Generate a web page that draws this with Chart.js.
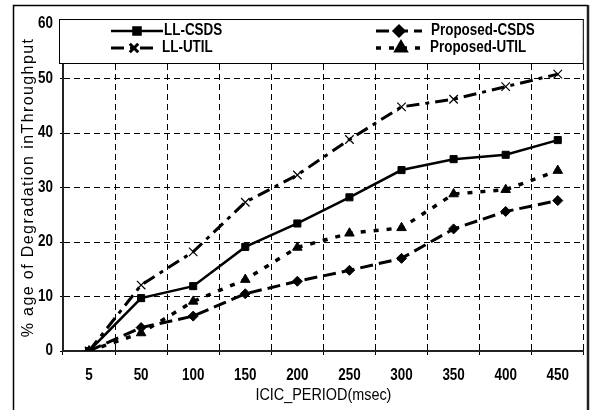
<!DOCTYPE html>
<html><head><meta charset="utf-8">
<script src="https://cdn.jsdelivr.net/npm/chart.js@4/dist/chart.umd.min.js"></script>
<style>html,body{margin:0;padding:0;background:#fff}</style>
</head><body>
<canvas id="c" width="591" height="410"></canvas>
<script>
const categories = ['5','50','100','150','200','250','300','350','400','450'];
const llCsds       = [0, 9.7, 11.9, 19.1, 23.4, 28.2, 33.2, 35.2, 36.0, 38.7];
const proposedCsds = [0, 4.3, 6.4, 10.5, 12.8, 14.8, 17.0, 22.4, 25.6, 27.6];
const llUtil       = [0, 12.1, 18.2, 27.3, 32.3, 38.8, 44.8, 46.2, 48.5, 50.8];
const proposedUtil = [0, 3.3, 9.1, 13.1, 19.0, 21.6, 22.6, 28.8, 29.6, 33.1];
const yMin = 0, yMax = 60, yStep = 10;
const seriesNames = ['LL-CSDS', 'Proposed-CSDS', 'LL-UTIL', 'Proposed-UTIL'];
const xTitle = 'ICIC_PERIOD(msec)';
const yTitle = '% age of Degradation inThroughput';

const FONT = "'Liberation Sans Narrow','Arial Narrow','Liberation Sans',Arial,sans-serif";

const canvas = document.getElementById('c');
const ctx0 = canvas.getContext('2d');
// narrow the Arial-like font horizontally (reference uses a condensed face)
const origFill = ctx0.fillText.bind(ctx0);
ctx0.fillText = function (t, x, y, mw) {
  const s = (this.__sx != null) ? this.__sx : (/bold/.test(this.font) ? 0.84 : 0.9);
  this.save(); this.translate(x, y); this.scale(s, 1);
  if (mw !== undefined) origFill(t, 0, 0, mw / s); else origFill(t, 0, 0);
  this.restore();
};

const frame = {
  id: 'frame',
  beforeDraw(chart) {
    const ctx = chart.ctx;
    ctx.save(); ctx.fillStyle = '#fff'; ctx.fillRect(0, 0, chart.width, chart.height); ctx.restore();
  },
  afterDraw(chart) {
    const ctx = chart.ctx, a = chart.chartArea;
    ctx.save();
    // legend box
    const bx = a.left - 4, by = a.top - 5, bw = a.right - bx, bh = 44;
    ctx.fillStyle = '#fff'; ctx.fillRect(bx, by, bw, bh);
    ctx.strokeStyle = '#000'; ctx.lineWidth = 1;
    ctx.strokeRect(bx + 0.5, by + 0.5, bw - 1, bh);
    const cols = [a.left + 48, a.left + 313];
    const rows = [by + 12, by + 29];
    chart.data.datasets.forEach((ds, i) => {
      const x0 = cols[i % 2], y = rows[Math.floor(i / 2)];
      const len = ds.legendLen;
      ctx.save();
      ctx.strokeStyle = '#000'; ctx.lineWidth = ds.borderWidth;
      ctx.setLineDash(ds.borderDash || []);
      ctx.lineDashOffset = ds.legendDashOffset || 0;
      ctx.beginPath(); ctx.moveTo(x0, y); ctx.lineTo(x0 + len, y); ctx.stroke();
      ctx.setLineDash([]);
      ctx.fillStyle = '#000';
      Chart.helpers.drawPoint(ctx, {pointStyle: ds.pointStyle, rotation: 0, radius: ds.pointRadius, borderWidth: ds.pointBorderWidth}, x0 + len / 2, y);
      ctx.restore();
      ctx.fillStyle = '#000';
      ctx.font = 'bold 16px ' + FONT;
      ctx.textBaseline = 'middle'; ctx.textAlign = 'left';
      ctx.fillText(ds.label, x0 + ds.legendTextX, y);
    });
    // y axis title
    ctx.save();
    ctx.translate(29, (a.top + a.bottom) / 2);
    ctx.rotate(-Math.PI / 2);
    ctx.font = '16px ' + FONT;
    ctx.letterSpacing = '1.4px';
    ctx.fillStyle = '#000'; ctx.textAlign = 'center'; ctx.textBaseline = 'middle';
    ctx.__sx = 1;
    ctx.fillText(yTitle, 0, 0);
    ctx.__sx = null;
    ctx.letterSpacing = '0px';
    ctx.restore();
    // outer frame
    ctx.strokeStyle = '#000'; ctx.lineWidth = 1.5;
    ctx.beginPath();
    ctx.moveTo(13.5, 412); ctx.lineTo(13.5, 5.5); ctx.lineTo(588, 5.5); ctx.stroke();
    ctx.strokeStyle = '#222'; ctx.lineWidth = 2.5;
    ctx.beginPath(); ctx.moveTo(588, 5); ctx.lineTo(588, 412); ctx.stroke();
    ctx.restore();
  }
};

new Chart(canvas, {
  type: 'line',
  data: {
    labels: categories,
    datasets: [
      {label: seriesNames[0], data: llCsds, borderColor: '#000', backgroundColor: '#000', borderWidth: 2.5,
       pointStyle: 'rect', pointRadius: 5, pointBorderWidth: 1, pointBackgroundColor: '#000', pointBorderColor: '#000', legendLen: 52, legendTextX: 53},
      {label: seriesNames[1], data: proposedCsds, borderColor: '#000', backgroundColor: '#000', borderWidth: 3, borderDash: [13, 6],
       pointStyle: 'rectRot', pointRadius: 5, pointBorderWidth: 1, pointBackgroundColor: '#000', pointBorderColor: '#000', legendLen: 46, legendTextX: 55},
      {label: seriesNames[2], data: llUtil, borderColor: '#000', backgroundColor: '#000', borderWidth: 3, borderDash: [13, 6, 4, 6],
       pointStyle: 'crossRot', pointRadius: 6, pointBorderWidth: 1.2, pointBackgroundColor: '#000', pointBorderColor: '#000', legendLen: 46, legendTextX: 51},
      {label: seriesNames[3], data: proposedUtil, borderColor: '#000', backgroundColor: '#000', borderWidth: 3.5, borderDash: [5, 8],
       pointStyle: 'triangle', pointRadius: 5.5, pointBorderWidth: 1, pointBackgroundColor: '#000', pointBorderColor: '#000', legendLen: 50, legendTextX: 54}
    ]
  },
  options: {
    responsive: false, animation: false, devicePixelRatio: 1,
    layout: {padding: {left: 0, right: 4, top: 24, bottom: 5}},
    elements: {line: {tension: 0, fill: false}},
    plugins: {legend: {display: false}, tooltip: {enabled: false}},
    scales: {
      x: {
        type: 'category', offset: true,
        grid: {offset: true, color: '#000', lineWidth: 1, tickLength: 4, tickColor: '#000', tickWidth: 1},
        border: {display: true, color: '#222', width: 2, dash: [6, 4]},
        ticks: {color: '#000', font: {family: FONT, size: 16, weight: 'bold'}, padding: 11, maxRotation: 0, autoSkip: false},
        title: {display: true, text: xTitle, color: '#000', font: {family: FONT, size: 16}, padding: {top: 0, bottom: 0}},
        afterFit(s) { s.height = 54; }
      },
      y: {
        min: yMin, max: yMax,
        grid: {color: '#000', lineWidth: 1, tickLength: 3, tickColor: '#000', tickWidth: 1},
        border: {display: true, color: '#222', width: 2, dash: [6, 4]},
        ticks: {stepSize: yStep, color: '#000', font: {family: FONT, size: 16, weight: 'bold'}, padding: 7},
        title: {display: false, text: yTitle},
        afterFit(s) { s.width = 63; }
      }
    }
  },
  plugins: [frame]
});
</script>
</body></html>
